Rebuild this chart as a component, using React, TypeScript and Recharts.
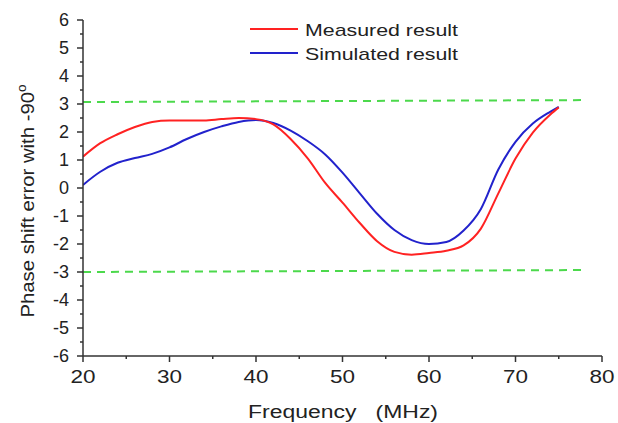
import React from 'react';
import { LineChart, Line, XAxis, YAxis } from 'recharts';

const freq = [20, 22, 24, 26, 28, 30, 32, 34, 36, 38, 40, 42, 44, 46, 48, 50, 52, 54, 56, 58, 60, 62, 64, 66, 68, 70, 72, 74, 75];
const measured = [1.12, 1.6, 1.92, 2.18, 2.36, 2.41, 2.41, 2.41, 2.46, 2.5, 2.46, 2.27, 1.75, 1.05, 0.18, -0.52, -1.25, -1.9, -2.28, -2.38, -2.32, -2.24, -2.05, -1.45, -0.2, 1.05, 1.98, 2.62, 2.88];
const simulated = [0.11, 0.58, 0.9, 1.07, 1.22, 1.45, 1.75, 2.0, 2.2, 2.36, 2.43, 2.32, 2.05, 1.67, 1.2, 0.55, -0.19, -0.92, -1.5, -1.86, -2.0, -1.93, -1.52, -0.75, 0.65, 1.65, 2.3, 2.72, 2.9];

const limitFreq = [20, 78];
const upperLimit = [3.07, 3.14];
const lowerLimit = [-3.0, -2.93];

const xTicks = [20, 25, 30, 35, 40, 45, 50, 55, 60, 65, 70, 75, 80];
const yTicks = [-6, -5.5, -5, -4.5, -4, -3.5, -3, -2.5, -2, -1.5, -1, -0.5, 0, 0.5, 1, 1.5, 2, 2.5, 3, 3.5, 4, 4.5, 5, 5.5, 6];

const seriesNames = ['Measured result', 'Simulated result'];
const seriesColors = ['#ff2222', '#2222cc'];

const data = freq.map((f, i) => ({ f, measured: measured[i], simulated: simulated[i] }));
const upperData = limitFreq.map((f, i) => ({ f, v: upperLimit[i] }));
const lowerData = limitFreq.map((f, i) => ({ f, v: lowerLimit[i] }));

const AXIS = '#333';
const FONT = 'Liberation Sans, Arial, sans-serif';

const XTick = (props: any) => {
  const { x, y, payload } = props;
  const major = payload.value % 10 === 0;
  return (
    <g>
      <line x1={x} x2={x} y1={y} y2={y + (major ? 6 : 3)} stroke={AXIS} strokeWidth={1.5} />
      {major && (
        <text x={x} y={y + 27} textAnchor="middle" fontSize={19} fill="#222" fontFamily={FONT}
          textLength={25} lengthAdjust="spacingAndGlyphs">
          {payload.value}
        </text>
      )}
    </g>
  );
};

const YTick = (props: any) => {
  const { x, y, payload } = props;
  const major = Number.isInteger(payload.value);
  return (
    <g>
      <line x1={x} x2={x - (major ? 6 : 3)} y1={y} y2={y} stroke={AXIS} strokeWidth={1.5} />
      {major && (
        <text x={x - 14} y={y + 6} textAnchor="end" fontSize={18} fill="#222" fontFamily={FONT}>
          {payload.value}
        </text>
      )}
    </g>
  );
};

export default function App() {
  return (
    <div style={{ position: 'absolute', left: 0, top: 0, width: 618, height: 423, background: '#fff' }}>
      <LineChart width={618} height={423} margin={{ top: 20, right: 16, left: 0, bottom: 0 }}>
        <XAxis
          dataKey="f"
          type="number"
          domain={[20, 80]}
          ticks={xTicks}
          interval={0}
          height={67}
          tickSize={0}
          tickMargin={0}
          tickLine={false}
          tick={<XTick />}
          axisLine={{ stroke: AXIS, strokeWidth: 1.5 }}
          allowDataOverflow
        />
        <YAxis
          type="number"
          domain={[-6, 6]}
          ticks={yTicks}
          interval={0}
          width={83}
          tickSize={0}
          tickMargin={0}
          tickLine={false}
          tick={<YTick />}
          axisLine={{ stroke: AXIS, strokeWidth: 1.5 }}
        />
        <Line data={upperData} dataKey="v" stroke="#4cd94c" strokeWidth={2} strokeDasharray="8 6" dot={false} isAnimationActive={false} />
        <Line data={lowerData} dataKey="v" stroke="#4cd94c" strokeWidth={2} strokeDasharray="8 6" dot={false} isAnimationActive={false} />
        <Line data={data} dataKey="simulated" type="monotone" stroke={seriesColors[1]} strokeWidth={2} dot={false} isAnimationActive={false} />
        <Line data={data} dataKey="measured" type="monotone" stroke={seriesColors[0]} strokeWidth={2} dot={false} isAnimationActive={false} />
      </LineChart>
      <svg width={618} height={423} style={{ position: 'absolute', left: 0, top: 0, pointerEvents: 'none' }}>
        {seriesNames.map((name, i) => (
          <g key={name}>
            <line x1={250} x2={298} y1={29 + i * 24} y2={29 + i * 24} stroke={seriesColors[i]} strokeWidth={2} />
            <text x={305} y={36 + i * 24} fontSize={17} fill="#222" fontFamily={FONT}
              textLength={153} lengthAdjust="spacingAndGlyphs">
              {name}
            </text>
          </g>
        ))}
        <text
          transform="translate(34,201) rotate(-90)"
          textAnchor="middle"
          fontSize={18}
          fill="#222"
          fontFamily={FONT}
          textLength={233}
          lengthAdjust="spacingAndGlyphs"
        >
          Phase shift error with -90
          <tspan fontSize={12} dy={-8}>o</tspan>
        </text>
        <text x={248} y={418} fontSize={18} fill="#222" fontFamily={FONT} textLength={190}
          lengthAdjust="spacingAndGlyphs" style={{ whiteSpace: 'pre' }} xmlSpace="preserve">
          {'Frequency   (MHz)'}
        </text>
      </svg>
    </div>
  );
}
